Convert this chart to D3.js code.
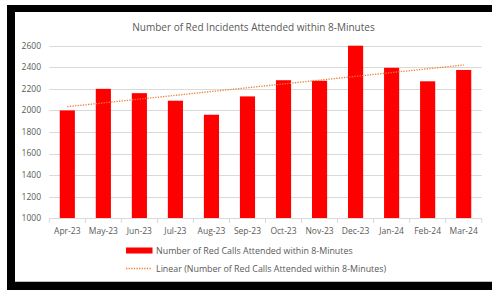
<!DOCTYPE html>
<html>
<head>
<meta charset="utf-8">
<script src="https://cdn.jsdelivr.net/npm/d3@7"></script>
<style>
  html, body { margin: 0; padding: 0; background: #fff; }
  svg { display: block; font-family: "Open Sans", "Noto Sans", sans-serif; }
</style>
</head>
<body>
<svg id="chart" width="492" height="290"></svg>
<script>
// values
const months = ["Apr-23","May-23","Jun-23","Jul-23","Aug-23","Sep-23",
                "Oct-23","Nov-23","Dec-23","Jan-24","Feb-24","Mar-24"];
const redCalls = [2000, 2200, 2160, 2090, 1960, 2130, 2280, 2275, 2600, 2395, 2270, 2375];
const yTicks = [1000, 1200, 1400, 1600, 1800, 2000, 2200, 2400, 2600];
const chartTitle = "Number of Red Incidents Attended within 8-Minutes";
const seriesName = "Number of Red Calls Attended within 8-Minutes";
const trendName = "Linear (Number of Red Calls Attended within 8-Minutes)";

const svg = d3.select("#chart");

// black frame round the pasted chart
svg.append("rect").attr("x", 7).attr("y", 5).attr("width", 485).attr("height", 285).attr("fill", "#000");
svg.append("rect").attr("x", 15).attr("y", 12).attr("width", 477).attr("height", 270).attr("fill", "#fff");
svg.append("line").attr("x1", 15).attr("x2", 492).attr("y1", 281.5).attr("y2", 281.5)
    .attr("stroke", "#bfbfbf");

const pl = 49.3, pr = 481.7, pt = 45.7, pb = 218.3;

const x = d3.scaleBand().domain(months).range([pl, pr])
    .paddingInner(0.58).paddingOuter(0.29);
const y = d3.scaleLinear().domain([1000, 2600]).range([pb, pt]);

// title
svg.append("text")
    .attr("x", (15 + 492) / 2).attr("y", 31)
    .attr("text-anchor", "middle")
    .attr("font-size", 10).attr("fill", "#595959")
    .text(chartTitle);

// gridlines
svg.append("g").selectAll("line").data(yTicks.filter(d => d > 1000)).join("line")
    .attr("x1", pl).attr("x2", pr)
    .attr("y1", d => Math.round(y(d)) + 0.5).attr("y2", d => Math.round(y(d)) + 0.5)
    .attr("stroke", "#d9d9d9");

// y labels
svg.append("g").selectAll("text").data(yTicks).join("text")
    .attr("x", 41).attr("y", d => y(d)).attr("dy", "0.34em")
    .attr("text-anchor", "end").attr("font-size", 8.5).attr("fill", "#595959")
    .text(d => d);

// bars
svg.append("g").selectAll("rect").data(redCalls).join("rect")
    .attr("x", (d, i) => x(months[i]))
    .attr("width", x.bandwidth())
    .attr("y", d => y(d))
    .attr("height", d => y(1000) - y(d))
    .attr("fill", "#ff0000");

// x axis line + boundary ticks
const step = x.step();
svg.append("line").attr("x1", pl).attr("x2", pr)
    .attr("y1", Math.round(pb) + 0.5).attr("y2", Math.round(pb) + 0.5)
    .attr("stroke", "#d9d9d9");
svg.append("g").selectAll("line").data(d3.range(months.length + 1)).join("line")
    .attr("x1", i => pl + i * step).attr("x2", i => pl + i * step)
    .attr("y1", Math.round(pb)).attr("y2", Math.round(pb) + 5)
    .attr("stroke", "#d9d9d9");

svg.append("g").selectAll("text").data(months).join("text")
    .attr("x", d => x(d) + x.bandwidth() / 2).attr("y", 233.5)
    .attr("text-anchor", "middle").attr("font-size", 8.5).attr("fill", "#595959")
    .text(d => d);

// linear trendline (least squares, like Excel)
const n = redCalls.length;
const xm = d3.mean(d3.range(n)), ym = d3.mean(redCalls);
const slope = d3.sum(redCalls, (v, i) => (i - xm) * (v - ym)) /
              d3.sum(d3.range(n), i => (i - xm) * (i - xm));
const icpt = ym - slope * xm;
const cx = i => x(months[i]) + x.bandwidth() / 2;
svg.append("line")
    .attr("x1", cx(0)).attr("y1", y(icpt))
    .attr("x2", cx(n - 1)).attr("y2", y(icpt + slope * (n - 1)))
    .attr("stroke", "#ed7d31").attr("stroke-width", 1.3)
    .attr("stroke-dasharray", "1.3,1.3");

// legend
svg.append("rect").attr("x", 126).attr("y", 247.5).attr("width", 26.5).attr("height", 6)
    .attr("fill", "#ff0000");
svg.append("text").attr("x", 156).attr("y", 250.5).attr("dy", "0.34em")
    .attr("font-size", 8.9).attr("fill", "#595959").text(seriesName);
svg.append("line").attr("x1", 126).attr("x2", 152).attr("y1", 268.5).attr("y2", 268.5)
    .attr("stroke", "#ed7d31").attr("stroke-width", 1.3).attr("stroke-dasharray", "1.3,1.3");
svg.append("text").attr("x", 156).attr("y", 268.5).attr("dy", "0.34em")
    .attr("font-size", 8.9).attr("fill", "#595959").text(trendName);
</script>
</body>
</html>
